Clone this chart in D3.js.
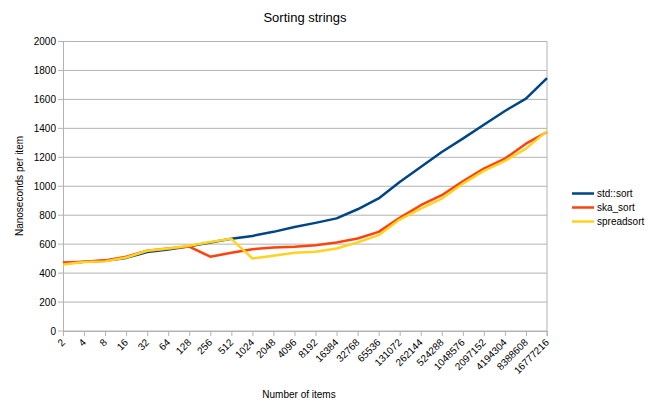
<!DOCTYPE html>
<html>
<head>
<meta charset="utf-8">
<script src="https://cdn.jsdelivr.net/npm/d3@7"></script>
<style>
body { margin: 0; background: #fff; }
text { font-family: "Liberation Sans", Arial, sans-serif; fill: #000; }
</style>
</head>
<body>
<div id="chart"></div>
<script>
var items = ["2","4","8","16","32","64","128","256","512","1024","2048","4096","8192",
	"16384","32768","65536","131072","262144","524288","1048576","2097152","4194304",
	"8388608","16777216"];
var stdSort = [467,478,486,505,545,563,585,612,637,657,685,719,747,778,841,916,1030,1133,
	1237,1329,1425,1520,1605,1747];
var skaSort = [474,478,488,513,554,570,583,513,540,565,577,582,593,612,639,685,782,869,
	938,1034,1122,1191,1294,1375];
var spreadSort = [460,476,481,508,554,570,589,615,637,501,520,540,547,570,612,662,770,846,
	915,1018,1106,1175,1260,1381];
var yTicks = [0,200,400,600,800,1000,1200,1400,1600,1800,2000];

var series = [
	{name: "std::sort", values: stdSort, color: "#004586"},
	{name: "ska_sort", values: skaSort, color: "#ff420e"},
	{name: "spreadsort", values: spreadSort, color: "#ffd320"}
];

var width = 650, height = 415;
var margin = {left: 63, right: 103, top: 41.5, bottom: 84};

var svg = d3.select("#chart").append("svg")
	.attr("width", width)
	.attr("height", height);

var x = d3.scalePoint()
	.domain(items)
	.range([margin.left, width - margin.right]);
var y = d3.scaleLinear()
	.domain([0, 2000])
	.range([height - margin.bottom, margin.top]);

// grid
svg.append("g").selectAll("line")
	.data(yTicks)
  .enter().append("line")
	.attr("x1", margin.left - 5)
	.attr("x2", width - margin.right)
	.attr("y1", function(d){ return y(d); })
	.attr("y2", function(d){ return y(d); })
	.attr("stroke", "#b3b3b3")
	.attr("stroke-width", 1);

// y axis
var yAxis = svg.append("g")
	.attr("transform", "translate(" + margin.left + ",0)")
	.call(d3.axisLeft(y).tickValues(yTicks).tickFormat(d3.format("d")).tickSize(0).tickPadding(7));
yAxis.select(".domain").attr("stroke", "#b3b3b3");
yAxis.selectAll("text").style("font-size", "10px").attr("fill", "#000");

// right border
svg.append("line")
	.attr("x1", width - margin.right).attr("x2", width - margin.right)
	.attr("y1", y(2000)).attr("y2", y(0) + 5)
	.attr("stroke", "#b3b3b3");

// x axis
var xAxis = svg.append("g")
	.attr("transform", "translate(0," + y(0) + ")")
	.call(d3.axisBottom(x).tickSize(5).tickSizeOuter(0));
xAxis.select(".domain").attr("stroke", "#b3b3b3");
xAxis.selectAll(".tick line").attr("stroke", "#b3b3b3");
xAxis.selectAll("text")
	.style("font-size", "10px")
	.attr("fill", "#000")
	.attr("text-anchor", "end")
	.attr("dy", "0.35em")
	.attr("transform", "translate(-6,4) rotate(-45)");

// lines
var line = d3.line()
	.x(function(d, i){ return x(items[i]); })
	.y(function(d){ return y(d); });

svg.append("g").selectAll("path")
	.data(series)
  .enter().append("path")
	.attr("d", function(d){ return line(d.values); })
	.attr("fill", "none")
	.attr("stroke", function(d){ return d.color; })
	.attr("stroke-width", 2.5)
	.attr("stroke-linejoin", "round");

// legend
var legend = svg.append("g").selectAll("g")
	.data(series)
  .enter().append("g")
	.attr("transform", function(d, i){ return "translate(572," + (193.5 + i * 14) + ")"; });
legend.append("line")
	.attr("x1", 0).attr("x2", 22)
	.attr("stroke", function(d){ return d.color; })
	.attr("stroke-width", 2.5);
legend.append("text")
	.attr("x", 25)
	.attr("dy", "0.35em")
	.style("font-size", "10px")
	.text(function(d){ return d.name; });

// titles
svg.append("text")
	.attr("x", 305).attr("y", 22)
	.attr("text-anchor", "middle")
	.style("font-size", "13px")
	.text("Sorting strings");
svg.append("text")
	.attr("x", 299).attr("y", 398)
	.attr("text-anchor", "middle")
	.style("font-size", "10px")
	.text("Number of items");
svg.append("text")
	.attr("transform", "translate(23,186) rotate(-90)")
	.attr("text-anchor", "middle")
	.style("font-size", "10px")
	.text("Nanoseconds per item");
</script>
</body>
</html>
